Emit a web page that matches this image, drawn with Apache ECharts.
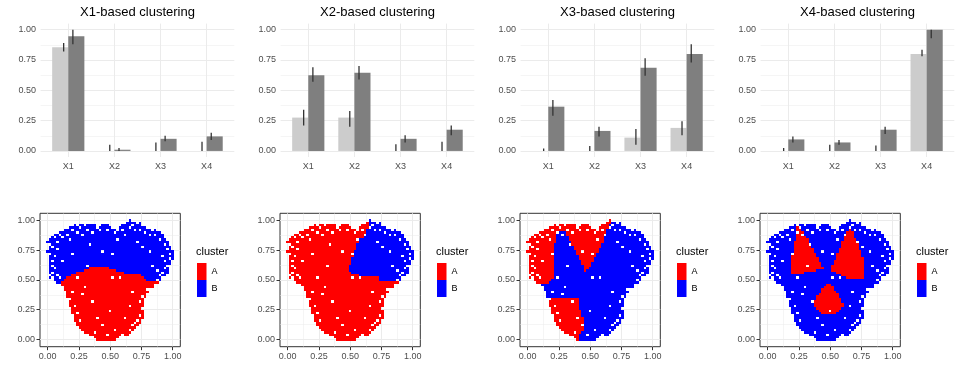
<!DOCTYPE html>
<html>
<head>
<meta charset="utf-8">
<script src="https://cdn.jsdelivr.net/npm/echarts@6/dist/echarts.min.js"></script>
<style>
  html, body { margin: 0; padding: 0; background: #fff; }
  #main { width: 960px; height: 380px; }
</style>
</head>
<body>
<div id="main"></div>
<script>
var categories = ['X1', 'X2', 'X3', 'X4'];
var panelTitles = ['X1-based clustering', 'X2-based clustering', 'X3-based clustering', 'X4-based clustering'];
var yTicks = [0, 0.25, 0.5, 0.75, 1];
var yMinor = [0.125, 0.375, 0.625, 0.875];
var clusterNames = ['A', 'B'];

// bar heights and error ranges (light = cluster A, dark = cluster B)
var x1Light = [0.855, 0, 0, 0];
var x1LightErr = [[0.82, 0.89], [0, 0.05], [0, 0.07], [0, 0.075]];
var x1Dark = [0.945, 0.01, 0.10, 0.12];
var x1DarkErr = [[0.88, 1.00], [0, 0.025], [0.08, 0.125], [0.09, 0.15]];

var x2Light = [0.275, 0.275, 0, 0];
var x2LightErr = [[0.21, 0.34], [0.20, 0.33], [0, 0.055], [0, 0.075]];
var x2Dark = [0.625, 0.645, 0.10, 0.175];
var x2DarkErr = [[0.57, 0.69], [0.59, 0.70], [0.07, 0.13], [0.13, 0.21]];

var x3Light = [0, 0, 0.11, 0.19];
var x3LightErr = [[0, 0.02], [0, 0.04], [0.05, 0.18], [0.13, 0.245]];
var x3Dark = [0.365, 0.165, 0.685, 0.80];
var x3DarkErr = [[0.29, 0.42], [0.12, 0.20], [0.62, 0.765], [0.73, 0.88]];

var x4Light = [0, 0, 0, 0.80];
var x4LightErr = [[0, 0.025], [0, 0.05], [0, 0.045], [0.78, 0.835]];
var x4Dark = [0.095, 0.07, 0.175, 1.00];
var x4DarkErr = [[0.07, 0.12], [0.05, 0.09], [0.14, 0.20], [0.93, 1.00]];

// point grid: 51 x 51 cells, step 0.02. outline[j] = occupied column spans of row j (j=0 bottom)
var gridStep = 0.02;
var outline = [
  [[20, 27]], [[19, 29]], [[17, 32]], [[15, 33]], [[14, 34]],
  [[13, 35]], [[12, 36]], [[12, 37]], [[11, 37]], [[11, 38]],
  [[11, 38]], [[10, 38]], [[10, 38]], [[10, 38]], [[9, 38]],
  [[9, 38]], [[9, 38]], [[9, 38]], [[8, 39]], [[8, 39]],
  [[8, 40]], [[7, 40]], [[7, 42]], [[6, 43]], [[4, 44]],
  [[3, 45]], [[1, 1], [3, 45]], [[2, 47]], [[0, 48]], [[1, 48]],
  [[1, 48]], [[1, 48]], [[1, 49]], [[1, 49]], [[1, 50]],
  [[1, 50]], [[1, 50]], [[0, 50]], [[1, 49]], [[1, 49]],
  [[1, 48]], [[0, 48]], [[1, 47]], [[2, 46]], [[3, 46]],
  [[5, 45]], [[7, 27], [29, 43]], [[9, 25], [29, 40]], [[11, 19], [22, 24], [30, 37]], [[32, 35], [37, 37]],
  [[33, 33]]
];
// empty cells inside the outline [col, row]
var holes = [
  [13, 47], [16, 46], [20, 47], [8, 44], [12, 45], [24, 46], [35, 46], [39, 45], [43, 44], [17, 40],
  [22, 37], [26, 36], [28, 42], [38, 39], [46, 35], [42, 31], [16, 31], [4, 38], [6, 33], [3, 30],
  [44, 29], [47, 33], [10, 36], [26, 26], [29, 26], [12, 26], [34, 20], [14, 19], [38, 18], [33, 14],
  [18, 16], [12, 11], [31, 9], [37, 10], [22, 6], [27, 4], [19, 3], [34, 6], [24, 2], [29, 1],
  [2, 28], [45, 27], [48, 31], [9, 42], [31, 44], [36, 41], [41, 37], [15, 22], [20, 9], [25, 12],
  [10, 46], [14, 44], [18, 45], [21, 46], [27, 45], [33, 47], [37, 46], [41, 44], [6, 43], [4, 41],
  [2, 39], [45, 42], [47, 40], [3, 35], [2, 33], [49, 36], [49, 34], [12, 48], [15, 48], [34, 48],
  [37, 16], [38, 13], [36, 8], [13, 8], [11, 14], [9, 17], [16, 2], [30, 2], [33, 4], [35, 7],
  [10, 20], [40, 21], [43, 23], [44, 25], [5, 26], [4, 27], [46, 28], [47, 30], [0, 28], [48, 38],
  [8, 47], [26, 47], [30, 46], [40, 47], [42, 46], [5, 44], [3, 43], [1, 40], [1, 36], [2, 31]
];

// cluster maps: base cluster, then blocks [rowFrom, rowTo, colFrom, colTo] of the other cluster
var x1Base = 'B';
var x1Other = [[0, 23, 0, 50], [24, 24, 6, 50], [25, 25, 7, 39], [26, 26, 8, 38], [27, 27, 10, 37],
  [28, 28, 12, 30], [29, 29, 15, 27], [30, 30, 17, 24]];
var x2Base = 'A';
var x2Other = [[50, 50, 33, 33], [49, 49, 33, 37], [48, 48, 33, 37], [47, 47, 33, 40], [46, 46, 32, 43],
  [45, 45, 32, 45], [43, 44, 31, 46], [42, 42, 29, 47], [41, 41, 29, 48], [40, 40, 28, 48],
  [38, 39, 28, 49], [35, 37, 27, 50], [34, 34, 26, 50], [32, 33, 26, 49], [29, 31, 25, 48],
  [28, 28, 26, 48], [27, 27, 29, 47], [25, 26, 37, 45]];
var x3Base = 'B';
var x3Other = [[50, 50, 33, 33], [49, 49, 32, 33], [47, 48, 0, 32], [46, 46, 0, 31],
  [44, 45, 0, 11], [44, 45, 16, 31], [42, 43, 0, 11], [42, 43, 17, 30], [41, 41, 0, 11], [41, 41, 18, 30],
  [40, 40, 0, 10], [40, 40, 18, 29], [39, 39, 0, 10], [39, 39, 19, 29], [38, 38, 0, 10], [38, 38, 19, 28],
  [37, 37, 0, 10], [37, 37, 20, 28], [36, 36, 0, 10], [36, 36, 20, 27], [35, 35, 0, 10], [35, 35, 21, 27],
  [34, 34, 0, 10], [34, 34, 21, 26], [33, 33, 0, 10], [33, 33, 22, 26], [32, 32, 0, 10], [32, 32, 22, 25],
  [31, 31, 0, 10], [31, 31, 23, 25], [30, 30, 0, 10], [30, 30, 23, 24], [29, 29, 23, 23],
  [26, 29, 0, 10], [25, 25, 3, 9], [24, 24, 4, 8],
  [16, 17, 8, 20], [14, 15, 9, 20], [13, 13, 10, 20], [11, 12, 10, 21], [10, 10, 11, 21], [8, 9, 11, 22],
  [6, 7, 12, 22], [5, 5, 13, 22], [4, 4, 14, 22], [3, 3, 15, 21], [2, 2, 17, 20], [1, 1, 19, 20], [0, 0, 20, 20]];
var x4Base = 'B';
var x4Other = [[46, 47, 12, 13], [44, 45, 12, 14], [43, 43, 12, 15], [42, 42, 12, 16], [41, 41, 11, 16],
  [39, 40, 11, 17], [37, 38, 11, 18], [35, 36, 10, 19], [33, 34, 10, 20], [31, 32, 10, 21],
  [30, 30, 10, 22], [29, 29, 10, 19], [28, 28, 10, 14],
  [46, 47, 33, 33], [44, 45, 32, 34], [43, 43, 31, 34], [42, 42, 31, 35], [41, 41, 30, 35],
  [39, 40, 30, 36], [38, 38, 29, 36], [37, 37, 29, 37], [35, 36, 28, 37], [34, 34, 28, 38],
  [32, 33, 27, 38], [29, 31, 26, 38], [28, 28, 28, 38], [27, 27, 30, 38], [26, 26, 32, 38],
  [23, 23, 24, 25], [22, 22, 23, 26], [21, 21, 22, 26], [20, 20, 22, 27], [19, 19, 21, 28],
  [18, 18, 20, 28], [17, 17, 20, 29], [16, 16, 19, 29], [14, 15, 19, 30], [13, 13, 20, 29],
  [12, 12, 21, 28], [11, 11, 22, 27]];

var barPanels = [
  [x1Light, x1LightErr, x1Dark, x1DarkErr],
  [x2Light, x2LightErr, x2Dark, x2DarkErr],
  [x3Light, x3LightErr, x3Dark, x3DarkErr],
  [x4Light, x4LightErr, x4Dark, x4DarkErr]
];
var tilePanels = [[x1Base, x1Other], [x2Base, x2Other], [x3Base, x3Other], [x4Base, x4Other]];

var FONT = '"Liberation Sans", Arial, sans-serif';
var COL = 240;
var labelStyle = { color: '#4D4D4D', fontSize: 9, fontFamily: FONT };
var majorLine = { show: true, lineStyle: { color: '#EBEBEB', width: 1 } };
var minorLine = { show: true, lineStyle: { color: '#EBEBEB', width: 0.5 } };
var ERR_DODGE = 0.1;

function isHole(i, j) {
  return holes.some(function (h) { return h[0] === i && h[1] === j; });
}

function buildTiles(base, other) {
  var out = { A: [], B: [] };
  var flip = base === 'A' ? 'B' : 'A';
  outline.forEach(function (spans, j) {
    spans.forEach(function (s) {
      for (var i = s[0]; i <= s[1]; i++) {
        if (isHole(i, j)) continue;
        var inOther = other.some(function (b) { return j >= b[0] && j <= b[1] && i >= b[2] && i <= b[3]; });
        out[inOther ? flip : base].push([i * gridStep, j * gridStep]);
      }
    });
  });
  return out;
}

function renderTile(params, api) {
  var x = api.value(0), y = api.value(1);
  var p0 = api.coord([x - gridStep / 2, y + gridStep / 2]);
  var p1 = api.coord([x + gridStep / 2, y - gridStep / 2]);
  var x0 = Math.round(p0[0]), y0 = Math.round(p0[1]);
  return {
    type: 'rect',
    shape: { x: x0, y: y0, width: Math.round(p1[0]) - x0, height: Math.round(p1[1]) - y0 },
    style: { fill: api.visual('color') }
  };
}

function makeErrorBar(dx) {
  return function (params, api) {
    var lo = api.coord([api.value(0) + dx, api.value(1)]);
    var hi = api.coord([api.value(0) + dx, api.value(2)]);
    return {
      type: 'line',
      shape: { x1: lo[0], y1: lo[1], x2: hi[0], y2: hi[1] },
      style: { stroke: '#333333', lineWidth: 1.3 }
    };
  };
}

var grids = [], xAxes = [], yAxes = [], series = [], titles = [], legends = [];

barPanels.forEach(function (p, k) {
  var ox = k * COL;
  grids.push({ left: ox + 40.6, top: 23.6, width: 193.7, height: 133.4 });
  var g = grids.length - 1;
  xAxes.push({
    type: 'value', gridIndex: g, min: 0.4, max: 4.6,
    axisLine: { show: false, onZero: false },
    axisTick: { show: false, customValues: [1, 2, 3, 4] },
    axisLabel: Object.assign({ customValues: [1, 2, 3, 4], margin: 5,
      formatter: function (v) { return categories[Math.round(v) - 1]; } }, labelStyle),
    splitLine: majorLine
  });
  var xi = xAxes.length - 1;
  yAxes.push({
    type: 'value', gridIndex: g, min: -0.05, max: 1.05,
    axisLine: { show: false, onZero: false },
    axisTick: { show: false, customValues: yTicks },
    axisLabel: Object.assign({ customValues: yTicks, margin: 4.5,
      formatter: function (v) { return v.toFixed(2); } }, labelStyle),
    splitLine: majorLine
  });
  var yi = yAxes.length - 1;
  yAxes.push({
    type: 'value', gridIndex: g, min: -0.05, max: 1.05, position: 'left',
    axisLine: { show: false, onZero: false },
    axisTick: { show: false, customValues: yMinor },
    axisLabel: { show: false },
    splitLine: minorLine
  });

  var light = p[0], lightErr = p[1], dark = p[2], darkErr = p[3];
  series.push({
    type: 'bar', xAxisIndex: xi, yAxisIndex: yi, barWidth: 16.1, barGap: '0%', silent: true,
    itemStyle: { color: '#CCCCCC' },
    data: light.map(function (v, i) { return [i + 1, v]; })
  });
  series.push({
    type: 'bar', xAxisIndex: xi, yAxisIndex: yi, barWidth: 16.1, barGap: '0%', silent: true,
    itemStyle: { color: '#7F7F7F' },
    data: dark.map(function (v, i) { return [i + 1, v]; })
  });
  series.push({
    type: 'custom', xAxisIndex: xi, yAxisIndex: yi, silent: true, z: 5,
    encode: { x: 0, y: [1, 2] }, renderItem: makeErrorBar(-ERR_DODGE),
    data: lightErr.map(function (e, i) { return [i + 1, e[0], e[1]]; })
  });
  series.push({
    type: 'custom', xAxisIndex: xi, yAxisIndex: yi, silent: true, z: 5,
    encode: { x: 0, y: [1, 2] }, renderItem: makeErrorBar(ERR_DODGE),
    data: darkErr.map(function (e, i) { return [i + 1, e[0], e[1]]; })
  });

  titles.push({
    text: panelTitles[k], left: ox + 137.5, top: 5.5, textAlign: 'center', padding: 0,
    textStyle: { fontSize: 13, fontWeight: 'normal', color: '#000', fontFamily: FONT }
  });
});

tilePanels.forEach(function (p, k) {
  var ox = k * COL;
  grids.push({ left: ox + 40, top: 213.3, width: 140.3, height: 133.4,
    show: true, borderColor: '#333333', borderWidth: 1, backgroundColor: 'transparent' });
  var g = grids.length - 1;
  var axisMajor = function () {
    return {
      type: 'value', gridIndex: g, min: -0.061, max: 1.061,
      axisLine: { show: false, onZero: false },
      axisTick: { show: true, length: 3.5, customValues: yTicks, lineStyle: { color: '#333333' } },
      axisLabel: Object.assign({ customValues: yTicks, margin: 5,
        formatter: function (v) { return v.toFixed(2); } }, labelStyle),
      splitLine: majorLine
    };
  };
  var axisMinor = function () {
    return {
      type: 'value', gridIndex: g, min: -0.061, max: 1.061,
      axisLine: { show: false, onZero: false },
      axisTick: { show: false, customValues: yMinor },
      axisLabel: { show: false },
      splitLine: minorLine
    };
  };
  xAxes.push(axisMajor());
  var xi = xAxes.length - 1;
  xAxes.push(Object.assign(axisMinor(), { position: 'bottom' }));
  yAxes.push(axisMajor());
  var yi = yAxes.length - 1;
  yAxes.push(Object.assign(axisMinor(), { position: 'left' }));

  var tiles = buildTiles(p[0], p[1]);
  series.push({
    type: 'custom', name: 'A', xAxisIndex: xi, yAxisIndex: yi, silent: true,
    itemStyle: { color: '#FF0000' }, encode: { x: 0, y: 1 },
    renderItem: renderTile, data: tiles.A
  });
  series.push({
    type: 'custom', name: 'B', xAxisIndex: xi, yAxisIndex: yi, silent: true,
    itemStyle: { color: '#0000FF' }, encode: { x: 0, y: 1 },
    renderItem: renderTile, data: tiles.B
  });

  titles.push({
    text: 'cluster', left: ox + 196, top: 246, padding: 0,
    textStyle: { fontSize: 11, fontWeight: 'normal', color: '#000', fontFamily: FONT }
  });
  legends.push({
    data: clusterNames, left: ox + 197, top: 263, orient: 'vertical', padding: 0,
    itemWidth: 9.5, itemHeight: 17, itemGap: 0, icon: 'rect', selectedMode: false,
    textStyle: { fontSize: 9, color: '#000', fontFamily: FONT }
  });
});

var chart = echarts.init(document.getElementById('main'));
chart.setOption({
  animation: false,
  title: titles,
  legend: legends,
  grid: grids,
  xAxis: xAxes,
  yAxis: yAxes,
  series: series
});
</script>
</body>
</html>
